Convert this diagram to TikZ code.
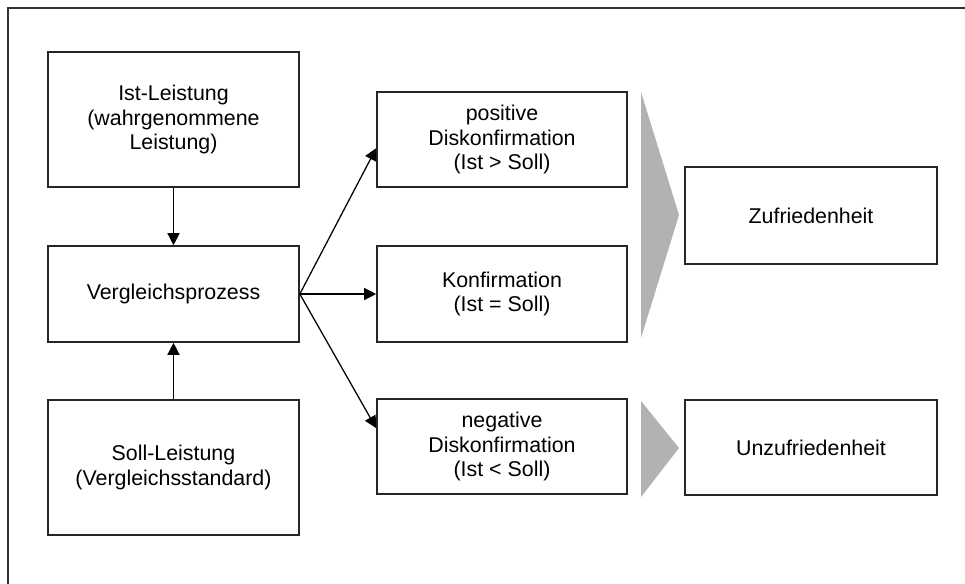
\documentclass[tikz,border=0pt]{standalone}
\usepackage{fontspec}
\setmainfont{Liberation Sans}
\usetikzlibrary{arrows.meta,calc}

\tikzset{
  box/.style={draw=black!85,line width=1.1pt,minimum width=6.275cm,align=center,
    font=\fontsize{15.2}{17.3}\selectfont},
  flow/.style={-{Triangle[length=3mm,width=3mm]},line width=0.9pt},
  wedge/.style={fill=black!30,draw=none},
}

\begin{document}
\begin{tikzpicture}[x=0.025cm,y=-0.025cm]
  \useasboundingbox (0,0) rectangle (965,584);
  % frame
  \draw[line width=1pt,black!80] (8,584) -- (8,8) -- (965,8);
  % left column
  \node[box,minimum height=3.375cm] (ist) at (173.5,119.5) {Ist-Leistung\\(wahrgenommene\\Leistung)};
  \node[box,minimum height=2.4cm] (vgl) at (173.5,294) {Vergleichsprozess};
  \node[box,minimum height=3.375cm] (soll) at (173.5,467.5) {Soll-Leistung\\(Vergleichsstandard)};
  % middle column
  \node[box,minimum height=2.375cm,minimum width=6.25cm] (pos) at (502,139.5) {positive\\Diskonfirmation\\(Ist > Soll)};
  \node[box,minimum height=2.4cm,minimum width=6.25cm] (konf) at (502,294) {Konfirmation\\(Ist = Soll)};
  \node[box,minimum height=2.375cm,minimum width=6.25cm] (neg) at (502,446.5) {negative\\Diskonfirmation\\(Ist < Soll)};
  % right column
  \node[box,minimum height=2.425cm,minimum width=6.3cm] (zuf) at (811,215.5) {Zufriedenheit};
  \node[box,minimum height=2.375cm,minimum width=6.3cm] (unz) at (811,447.5) {Unzufriedenheit};
  % arrows
  \draw[flow] (ist) -- (vgl);
  \draw[flow] (soll) -- (vgl);
  \draw[flow] (vgl.east) -- ($(pos.south west)!0.41!(pos.north west)$);
  \draw[flow] (vgl.east) -- (konf.west);
  \draw[flow] (vgl.east) -- ($(neg.south west)!0.69!(neg.north west)$);
  % grey wedges
  \fill[wedge] (641,92) -- (679,215) -- (641,338) -- cycle;
  \fill[wedge] (641,401) -- (679,448) -- (641,497) -- cycle;
\end{tikzpicture}
\end{document}
